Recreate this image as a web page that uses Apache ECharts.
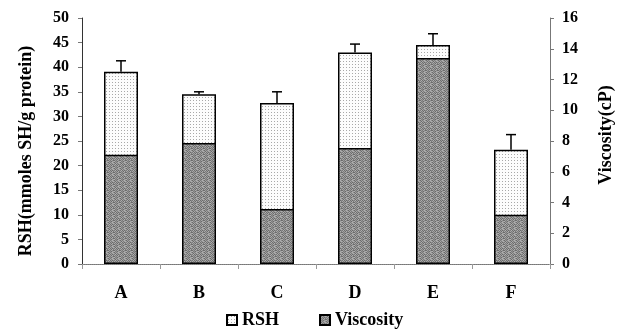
<!DOCTYPE html>
<html><head><meta charset="utf-8">
<script src="https://cdn.jsdelivr.net/npm/echarts@6/dist/echarts.min.js"></script>
<style>html,body{margin:0;padding:0;background:#fff}#c{width:631px;height:330px}</style>
</head><body><div id="c"></div>
<script>
var categories = ['A','B','C','D','E','F'];
var rshValues = [39.1, 34.5, 32.7, 43.0, 44.5, 23.2];
var rshErrTop = [41.3, 35.0, 35.0, 44.7, 46.8, 26.3];
var viscosityValues = [7.1, 7.87, 3.58, 7.55, 13.4, 3.2];
var leftTicks = {min:0, max:50, interval:5};
var rightTicks = {min:0, max:16, interval:2};

function pattern(kind){
  var c = document.createElement('canvas');
  var g = c.getContext('2d');
  if (kind === 'dots') {
    c.width = 3; c.height = 3;
    g.fillStyle = '#fcfcfc'; g.fillRect(0,0,3,3);
    g.fillStyle = '#a8a8a8'; g.fillRect(1,1,1,1);
  } else {
    var tile = [
      '6a9c7a9cb08c',
      '9c6aa87a9cb0',
      '7ab06e9c6a8c',
      'a87a9c6ab07a',
      '6e9c7aa88c6a',
      'b07a8c6a9ca8'
    ];
    c.width = 6; c.height = 6;
    for (var y = 0; y < 6; y++) {
      for (var x = 0; x < 6; x++) {
        var v = tile[y].substr(x*2, 2);
        g.fillStyle = '#' + v + v + v;
        g.fillRect(x, y, 1, 1);
      }
    }
  }
  return {image: c, repeat: 'repeat'};
}

var font = '"Liberation Serif", "Times New Roman", serif';
var chart = echarts.init(document.getElementById('c'), null, {renderer:'canvas'});
var errData = categories.map(function(c,i){ return [i, rshValues[i], rshErrTop[i]]; });
var titleStyle = {fontFamily: font, fontWeight: 'bold', fontSize: 18, fill: '#000', textAlign: 'center', textVerticalAlign: 'middle'};

chart.setOption({
  animation: false,
  textStyle: {fontFamily: font},
  grid: {left: 82, right: 81, top: 18, bottom: 66},
  legend: {
    data: ['RSH','Viscosity'],
    top: 306, left: 221,
    itemWidth: 10, itemHeight: 10, itemGap: 40,
    icon: 'rect',
    textStyle: {fontFamily: font, fontWeight: 700, fontSize: 18, color: '#000',
      rich: {b: {fontFamily: font, fontWeight: 700, fontSize: 18, color: '#000'}}},
    formatter: function(n){ return '{b|' + n + '}'; }
  },
  graphic: [
    {type: 'text', x: 26, y: 151, rotation: Math.PI/2, style: Object.assign({text: 'RSH(mmoles SH/g protein)'}, titleStyle)},
    {type: 'text', x: 606, y: 135, rotation: Math.PI/2, style: Object.assign({text: 'Viscosity(cP)'}, titleStyle)}
  ],
  xAxis: [{
    type: 'category', data: categories,
    axisLine: {lineStyle: {color: '#777', type: 'dotted'}},
    axisTick: {show: true, length: 5, lineStyle: {color: '#999'}},
    axisLabel: {margin: 20, fontFamily: font, fontWeight: 'bold', fontSize: 18, color: '#000'}
  },{
    type: 'category', data: categories, position: 'top',
    axisLine: {show: true, lineStyle: {color: '#777', type: 'dotted'}},
    axisTick: {show: false}, axisLabel: {show: false}
  }],
  yAxis: [{
    type: 'value', min: leftTicks.min, max: leftTicks.max, interval: leftTicks.interval,
    axisLine: {show: true, lineStyle: {color: '#333'}},
    axisTick: {show: true, length: 4, lineStyle: {color: '#777'}},
    splitLine: {show: false},
    axisLabel: {margin: 13, fontFamily: font, fontWeight: 'bold', fontSize: 16, color: '#000'}
  },{
    type: 'value', min: rightTicks.min, max: rightTicks.max, interval: rightTicks.interval,
    position: 'right',
    axisLine: {show: true, lineStyle: {color: '#777'}},
    axisTick: {show: true, length: 4, lineStyle: {color: '#777'}},
    splitLine: {show: false},
    axisLabel: {margin: 12, fontFamily: font, fontWeight: 'bold', fontSize: 16, color: '#000'}
  }],
  series: [{
    name: 'RSH', type: 'bar', yAxisIndex: 0, data: rshValues,
    barWidth: 34, barGap: '-100%',
    itemStyle: {color: pattern('dots'), borderColor: '#000', borderWidth: 1.5}
  },{
    name: 'Viscosity', type: 'bar', yAxisIndex: 1, data: viscosityValues,
    barWidth: 34, barGap: '-100%',
    itemStyle: {color: pattern('hatch'), borderColor: '#000', borderWidth: 1.5}
  },{
    name: 'err', type: 'custom', yAxisIndex: 0, data: errData, z: 5,
    renderItem: function(params, api){
      var base = api.coord([api.value(0), api.value(1)]);
      var top = api.coord([api.value(0), api.value(2)]);
      var style = {stroke: '#000', lineWidth: 1.5};
      return {type: 'group', children: [
        {type: 'line', shape: {x1: base[0], y1: base[1], x2: top[0], y2: top[1]}, style: style},
        {type: 'line', shape: {x1: top[0]-5, y1: top[1], x2: top[0]+5, y2: top[1]}, style: style}
      ]};
    }
  }]
});
</script></body></html>
